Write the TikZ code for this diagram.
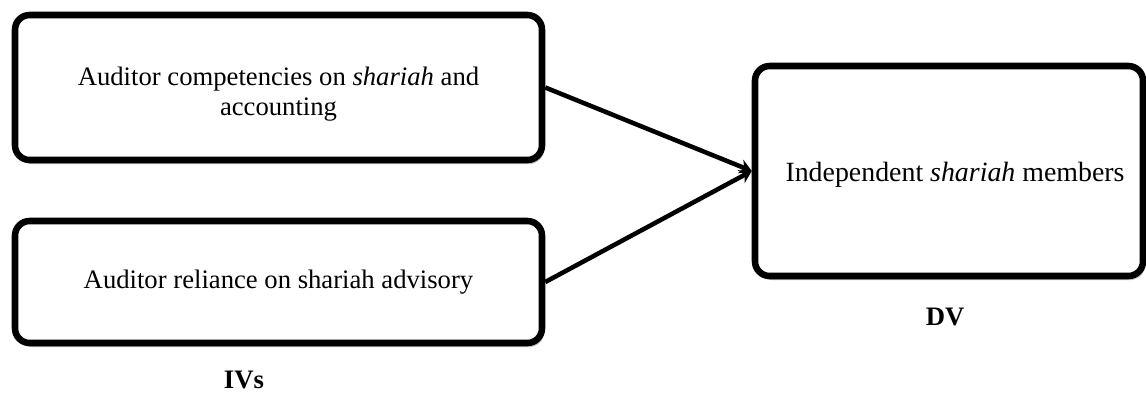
\documentclass[tikz,border=0pt]{standalone}
\usepackage{fontspec}
\setmainfont{Liberation Serif}
\usetikzlibrary{arrows.meta,shadows}
\begin{document}
\begin{tikzpicture}[x=0.75pt,y=-0.75pt,
  box/.style={draw=black,line width=4.9pt,rounded corners=11pt,fill=white,
    inner sep=0pt,outer sep=0.5\pgflinewidth,
    drop shadow={shadow xshift=1.5pt,shadow yshift=-3pt,opacity=0.35,fill=black!70}},
  txt/.style={inner sep=0pt,align=center,font=\fontsize{20pt}{22.5pt}\selectfont},
  lab/.style={inner sep=0pt,font=\fontsize{20pt}{22.5pt}\selectfont\bfseries},
  arr/.style={line width=3.4pt,-{Stealth[length=9pt,width=11pt,inset=3pt]}}]
\useasboundingbox (0,0) rectangle (1146,393);
\node[box,minimum width=395.25pt,minimum height=108.75pt] (iv1) at (278.5,87.5) {};
\node[box,minimum width=395.25pt,minimum height=91.5pt] (iv2) at (278.5,282) {};
\node[box,minimum width=291pt,minimum height=157.5pt] (dv) at (949,171) {};
\node[txt] (t1) at (278.5,94.5) {Auditor competencies on \textit{shariah} and\\accounting};
\node[txt,anchor=base] (t2) at (278.5,288) {Auditor reliance on shariah advisory};
\node[txt,anchor=base,font=\fontsize{20.9pt}{23pt}\selectfont] (t3) at (955,181) {Independent \textit{shariah} members};
\node[lab,anchor=base] (ivs) at (244,388) {IVs};
\node[lab,anchor=base] (dvl) at (945,325) {DV};
\draw[arr] (iv1.east) -- (dv.west);
\draw[arr] (iv2.east) -- (dv.west);
\end{tikzpicture}
\end{document}
